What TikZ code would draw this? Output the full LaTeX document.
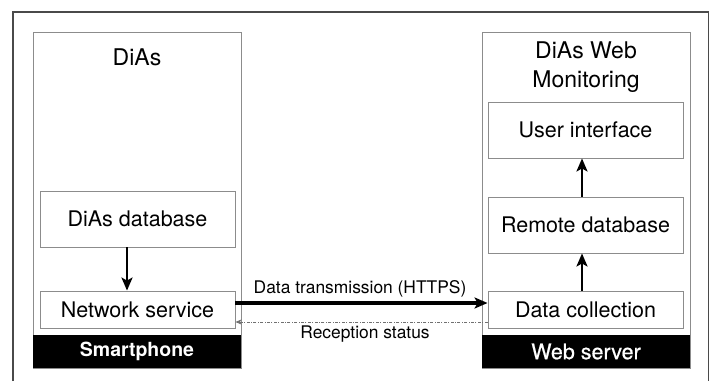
\documentclass[tikz,border=0pt]{standalone}
\usepackage{fontspec}
\setmainfont{TeX Gyre Heros}
\newfontfamily\serverfont[FakeBold=0.7]{TeX Gyre Heros}
\usetikzlibrary{arrows.meta}
\definecolor{boxgray}{HTML}{8C8C8C}
\definecolor{framegray}{HTML}{4A4A4A}
\definecolor{recvgray}{HTML}{707070}
\tikzset{
  innerbox/.style={draw=boxgray, line width=0.9pt, minimum width=195pt, inner sep=0pt,
    font=\fontsize{21.5}{24}\selectfont},
  colbox/.style={draw=boxgray, line width=0.9pt, inner sep=0pt, minimum width=208pt, minimum height=336pt},
  barbox/.style={fill=black, text=white, inner sep=0pt, minimum width=208pt, minimum height=33pt},
  titletext/.style={align=center, font=\fontsize{23}{29}\selectfont},
  flow/.style={line width=2.9pt, -{Stealth[length=13pt,width=11pt,inset=3pt]}},
  recv/.style={draw=recvgray, line width=0.8pt, dash pattern=on 3pt off 1.5pt on 0.8pt off 1.5pt,
    -{Stealth[length=6pt,width=5pt,inset=1.5pt]}},
  linklabel/.style={font=\fontsize{17.4}{20}\selectfont}
}
\begin{document}
\begin{tikzpicture}[x=1pt,y=-1pt]
\useasboundingbox (0,0) rectangle (710,381);
% outer frame (open at the bottom)
\draw[framegray, line width=1.3pt] (13,381) -- (13,12) -- (708.5,12) -- (708.5,381);
% columns
\node[colbox] (left) at (137,200) {};
\node[colbox] (right) at (586,200) {};
\node[barbox, font=\fontsize{19.5}{22}\selectfont\bfseries] (phone) at (137,351.5) {Smartphone};
\node[barbox, font=\serverfont\fontsize{21.5}{24}\selectfont] (server) at (586,351.5) {Web server};
% titles
\node[titletext] (t1) at (137,57) {DiAs};
\node[titletext] (t2) at (586,67.5) {DiAs Web\\Monitoring};
% inner boxes
\node[innerbox, minimum height=56pt] (db) at (137.5,219) {DiAs database};
\node[innerbox, minimum height=37pt] (ns) at (137.5,309.5) {Network service};
\node[innerbox, minimum height=56pt] (ui) at (585.5,130) {User interface};
\node[innerbox, minimum height=56pt] (rd) at (585.5,225) {Remote database};
\node[innerbox, minimum height=37pt] (dc) at (585.5,309.5) {Data collection};
% connectors
\coordinate (xa) at (127,0);
\coordinate (xb) at (582,0);
\coordinate (ya) at (0,303);
\coordinate (yb) at (0,322);
\draw[flow] (db.south -| xa) -- (ns.north -| xa);
\draw[flow] (dc.north -| xb) -- (rd.south -| xb);
\draw[flow] (rd.north -| xb) -- (ui.south -| xb);
\draw[flow, line width=3.2pt] (ns.east |- ya) -- (dc.west |- ya);
\draw[recv] (dc.west |- yb) -- (ns.east |- yb);
\node[linklabel] (l1) at (360,289) {Data transmission (HTTPS)};
\node[linklabel] (l2) at (365,334) {Reception status};
\end{tikzpicture}
\end{document}
